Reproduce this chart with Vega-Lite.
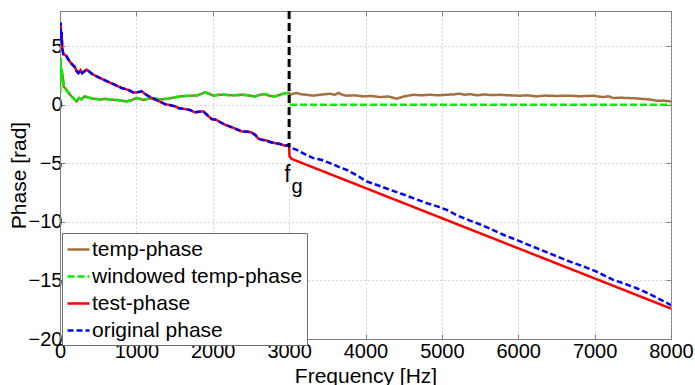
{
  "$schema": "https://vega.github.io/schema/vega-lite/v6.json",
  "width": 611,
  "height": 328,
  "autosize": {"type": "none"},
  "padding": {"left": 60, "top": 11, "right": 24, "bottom": 46},
  "background": "white",
  "config": {
    "font": "Liberation Sans",
    "view": {"stroke": "#7f7f7f", "strokeWidth": 1},
    "axis": {
      "domainColor": "#7f7f7f",
      "tickColor": "#7f7f7f",
      "tickSize": -5,
      "gridColor": "#b0b0b0",
      "gridDash": [1, 3],
      "labelFont": "Liberation Sans",
      "labelFontSize": 20,
      "labelColor": "black",
      "titleFont": "Liberation Sans",
      "titleFontSize": 21,
      "titleFontWeight": "normal",
      "titleColor": "black"
    }
  },
  "datasets": {
    "lines": [
      {"s": "temp-phase", "f": 0, "v": 1.0}, {"s": "temp-phase", "f": 5, "v": 4.0}, {"s": "temp-phase", "f": 12, "v": 2.0}, {"s": "temp-phase", "f": 20, "v": 3.0}, {"s": "temp-phase", "f": 35, "v": 2.4}, {"s": "temp-phase", "f": 50, "v": 1.5}, {"s": "temp-phase", "f": 65, "v": 1.45}, {"s": "temp-phase", "f": 100, "v": 1.1}, {"s": "temp-phase", "f": 153, "v": 0.7}, {"s": "temp-phase", "f": 190, "v": 0.45}, {"s": "temp-phase", "f": 218, "v": 0.28}, {"s": "temp-phase", "f": 250, "v": 0.57}, {"s": "temp-phase", "f": 280, "v": 0.45}, {"s": "temp-phase", "f": 320, "v": 0.71}, {"s": "temp-phase", "f": 380, "v": 0.6}, {"s": "temp-phase", "f": 450, "v": 0.5}, {"s": "temp-phase", "f": 530, "v": 0.45}, {"s": "temp-phase", "f": 600, "v": 0.5}, {"s": "temp-phase", "f": 655, "v": 0.43}, {"s": "temp-phase", "f": 750, "v": 0.4}, {"s": "temp-phase", "f": 873, "v": 0.28}, {"s": "temp-phase", "f": 940, "v": 0.4}, {"s": "temp-phase", "f": 1004, "v": 0.57}, {"s": "temp-phase", "f": 1050, "v": 0.5}, {"s": "temp-phase", "f": 1091, "v": 0.4}, {"s": "temp-phase", "f": 1150, "v": 0.5}, {"s": "temp-phase", "f": 1222, "v": 0.57}, {"s": "temp-phase", "f": 1300, "v": 0.45}, {"s": "temp-phase", "f": 1397, "v": 0.5}, {"s": "temp-phase", "f": 1480, "v": 0.6}, {"s": "temp-phase", "f": 1571, "v": 0.71}, {"s": "temp-phase", "f": 1650, "v": 0.75}, {"s": "temp-phase", "f": 1724, "v": 0.77}, {"s": "temp-phase", "f": 1800, "v": 0.8}, {"s": "temp-phase", "f": 1898, "v": 1.05}, {"s": "temp-phase", "f": 1950, "v": 0.95}, {"s": "temp-phase", "f": 2007, "v": 0.77}, {"s": "temp-phase", "f": 2080, "v": 0.85}, {"s": "temp-phase", "f": 2160, "v": 0.85}, {"s": "temp-phase", "f": 2250, "v": 0.8}, {"s": "temp-phase", "f": 2378, "v": 0.85}, {"s": "temp-phase", "f": 2460, "v": 0.8}, {"s": "temp-phase", "f": 2553, "v": 0.71}, {"s": "temp-phase", "f": 2620, "v": 0.85}, {"s": "temp-phase", "f": 2684, "v": 0.91}, {"s": "temp-phase", "f": 2750, "v": 0.75}, {"s": "temp-phase", "f": 2815, "v": 0.71}, {"s": "temp-phase", "f": 2900, "v": 0.9}, {"s": "temp-phase", "f": 2968, "v": 1.0}, {"s": "temp-phase", "f": 3000, "v": 1.0},
      {"s": "temp-phase", "f": 3011, "v": 0.85}, {"s": "temp-phase", "f": 3060, "v": 0.95}, {"s": "temp-phase", "f": 3098, "v": 1.0}, {"s": "temp-phase", "f": 3150, "v": 0.9}, {"s": "temp-phase", "f": 3220, "v": 0.85}, {"s": "temp-phase", "f": 3317, "v": 0.77}, {"s": "temp-phase", "f": 3400, "v": 0.85}, {"s": "temp-phase", "f": 3480, "v": 0.9}, {"s": "temp-phase", "f": 3535, "v": 0.94}, {"s": "temp-phase", "f": 3600, "v": 0.85}, {"s": "temp-phase", "f": 3644, "v": 1.0}, {"s": "temp-phase", "f": 3700, "v": 0.85}, {"s": "temp-phase", "f": 3753, "v": 0.77}, {"s": "temp-phase", "f": 3850, "v": 0.8}, {"s": "temp-phase", "f": 3971, "v": 0.71}, {"s": "temp-phase", "f": 4080, "v": 0.75}, {"s": "temp-phase", "f": 4189, "v": 0.65}, {"s": "temp-phase", "f": 4300, "v": 0.7}, {"s": "temp-phase", "f": 4407, "v": 0.51}, {"s": "temp-phase", "f": 4500, "v": 0.7}, {"s": "temp-phase", "f": 4625, "v": 0.85}, {"s": "temp-phase", "f": 4720, "v": 0.8}, {"s": "temp-phase", "f": 4844, "v": 0.85}, {"s": "temp-phase", "f": 4950, "v": 0.8}, {"s": "temp-phase", "f": 5062, "v": 0.85}, {"s": "temp-phase", "f": 5150, "v": 0.88}, {"s": "temp-phase", "f": 5237, "v": 0.94}, {"s": "temp-phase", "f": 5300, "v": 0.85}, {"s": "temp-phase", "f": 5368, "v": 0.91}, {"s": "temp-phase", "f": 5455, "v": 0.8}, {"s": "temp-phase", "f": 5550, "v": 0.88}, {"s": "temp-phase", "f": 5650, "v": 0.82}, {"s": "temp-phase", "f": 5761, "v": 0.85}, {"s": "temp-phase", "f": 5880, "v": 0.8}, {"s": "temp-phase", "f": 6023, "v": 0.77}, {"s": "temp-phase", "f": 6120, "v": 0.8}, {"s": "temp-phase", "f": 6241, "v": 0.71}, {"s": "temp-phase", "f": 6350, "v": 0.78}, {"s": "temp-phase", "f": 6500, "v": 0.75}, {"s": "temp-phase", "f": 6677, "v": 0.77}, {"s": "temp-phase", "f": 6800, "v": 0.72}, {"s": "temp-phase", "f": 6982, "v": 0.77}, {"s": "temp-phase", "f": 7050, "v": 0.7}, {"s": "temp-phase", "f": 7113, "v": 0.65}, {"s": "temp-phase", "f": 7180, "v": 0.72}, {"s": "temp-phase", "f": 7245, "v": 0.57}, {"s": "temp-phase", "f": 7330, "v": 0.6}, {"s": "temp-phase", "f": 7419, "v": 0.57}, {"s": "temp-phase", "f": 7520, "v": 0.55}, {"s": "temp-phase", "f": 7637, "v": 0.49}, {"s": "temp-phase", "f": 7720, "v": 0.45}, {"s": "temp-phase", "f": 7812, "v": 0.34}, {"s": "temp-phase", "f": 7900, "v": 0.35}, {"s": "temp-phase", "f": 8000, "v": 0.28},

      {"s": "windowed temp-phase", "f": 0, "v": 1.0}, {"s": "windowed temp-phase", "f": 5, "v": 4.0}, {"s": "windowed temp-phase", "f": 12, "v": 2.0}, {"s": "windowed temp-phase", "f": 20, "v": 3.0}, {"s": "windowed temp-phase", "f": 35, "v": 2.4}, {"s": "windowed temp-phase", "f": 50, "v": 1.5}, {"s": "windowed temp-phase", "f": 65, "v": 1.45}, {"s": "windowed temp-phase", "f": 100, "v": 1.1}, {"s": "windowed temp-phase", "f": 153, "v": 0.7}, {"s": "windowed temp-phase", "f": 190, "v": 0.45}, {"s": "windowed temp-phase", "f": 218, "v": 0.28}, {"s": "windowed temp-phase", "f": 250, "v": 0.57}, {"s": "windowed temp-phase", "f": 280, "v": 0.45}, {"s": "windowed temp-phase", "f": 320, "v": 0.71}, {"s": "windowed temp-phase", "f": 380, "v": 0.6}, {"s": "windowed temp-phase", "f": 450, "v": 0.5}, {"s": "windowed temp-phase", "f": 530, "v": 0.45}, {"s": "windowed temp-phase", "f": 600, "v": 0.5}, {"s": "windowed temp-phase", "f": 655, "v": 0.43}, {"s": "windowed temp-phase", "f": 750, "v": 0.4}, {"s": "windowed temp-phase", "f": 873, "v": 0.28}, {"s": "windowed temp-phase", "f": 940, "v": 0.4}, {"s": "windowed temp-phase", "f": 1004, "v": 0.57}, {"s": "windowed temp-phase", "f": 1050, "v": 0.5}, {"s": "windowed temp-phase", "f": 1091, "v": 0.4}, {"s": "windowed temp-phase", "f": 1150, "v": 0.5}, {"s": "windowed temp-phase", "f": 1222, "v": 0.57}, {"s": "windowed temp-phase", "f": 1300, "v": 0.45}, {"s": "windowed temp-phase", "f": 1397, "v": 0.5}, {"s": "windowed temp-phase", "f": 1480, "v": 0.6}, {"s": "windowed temp-phase", "f": 1571, "v": 0.71}, {"s": "windowed temp-phase", "f": 1650, "v": 0.75}, {"s": "windowed temp-phase", "f": 1724, "v": 0.77}, {"s": "windowed temp-phase", "f": 1800, "v": 0.8}, {"s": "windowed temp-phase", "f": 1898, "v": 1.05}, {"s": "windowed temp-phase", "f": 1950, "v": 0.95}, {"s": "windowed temp-phase", "f": 2007, "v": 0.77}, {"s": "windowed temp-phase", "f": 2080, "v": 0.85}, {"s": "windowed temp-phase", "f": 2160, "v": 0.85}, {"s": "windowed temp-phase", "f": 2250, "v": 0.8}, {"s": "windowed temp-phase", "f": 2378, "v": 0.85}, {"s": "windowed temp-phase", "f": 2460, "v": 0.8}, {"s": "windowed temp-phase", "f": 2553, "v": 0.71}, {"s": "windowed temp-phase", "f": 2620, "v": 0.85}, {"s": "windowed temp-phase", "f": 2684, "v": 0.91}, {"s": "windowed temp-phase", "f": 2750, "v": 0.75}, {"s": "windowed temp-phase", "f": 2815, "v": 0.71}, {"s": "windowed temp-phase", "f": 2900, "v": 0.9}, {"s": "windowed temp-phase", "f": 2968, "v": 1.0}, {"s": "windowed temp-phase", "f": 3000, "v": 1.0}, {"s": "windowed temp-phase", "f": 3008, "v": 0.0}, {"s": "windowed temp-phase", "f": 8000, "v": 0.0},

      {"s": "test-phase", "f": 0, "v": 6.0}, {"s": "test-phase", "f": 8, "v": 7.0}, {"s": "test-phase", "f": 15, "v": 5.5}, {"s": "test-phase", "f": 20, "v": 6.2}, {"s": "test-phase", "f": 30, "v": 4.8}, {"s": "test-phase", "f": 45, "v": 4.3}, {"s": "test-phase", "f": 80, "v": 4.2}, {"s": "test-phase", "f": 110, "v": 3.85}, {"s": "test-phase", "f": 150, "v": 3.5}, {"s": "test-phase", "f": 196, "v": 3.2}, {"s": "test-phase", "f": 215, "v": 2.9}, {"s": "test-phase", "f": 240, "v": 2.7}, {"s": "test-phase", "f": 270, "v": 2.95}, {"s": "test-phase", "f": 290, "v": 2.7}, {"s": "test-phase", "f": 320, "v": 2.85}, {"s": "test-phase", "f": 349, "v": 3.0}, {"s": "test-phase", "f": 380, "v": 2.85}, {"s": "test-phase", "f": 415, "v": 2.65}, {"s": "test-phase", "f": 500, "v": 2.35}, {"s": "test-phase", "f": 589, "v": 2.08}, {"s": "test-phase", "f": 700, "v": 1.75}, {"s": "test-phase", "f": 807, "v": 1.43}, {"s": "test-phase", "f": 900, "v": 1.25}, {"s": "test-phase", "f": 960, "v": 1.05}, {"s": "test-phase", "f": 1003, "v": 1.05}, {"s": "test-phase", "f": 1069, "v": 1.14}, {"s": "test-phase", "f": 1130, "v": 0.85}, {"s": "test-phase", "f": 1200, "v": 0.57}, {"s": "test-phase", "f": 1280, "v": 0.35}, {"s": "test-phase", "f": 1375, "v": 0.05}, {"s": "test-phase", "f": 1450, "v": -0.05}, {"s": "test-phase", "f": 1506, "v": -0.14}, {"s": "test-phase", "f": 1560, "v": -0.3}, {"s": "test-phase", "f": 1637, "v": -0.37}, {"s": "test-phase", "f": 1700, "v": -0.45}, {"s": "test-phase", "f": 1767, "v": -0.65}, {"s": "test-phase", "f": 1820, "v": -0.6}, {"s": "test-phase", "f": 1876, "v": -0.57}, {"s": "test-phase", "f": 1930, "v": -0.9}, {"s": "test-phase", "f": 1986, "v": -1.22}, {"s": "test-phase", "f": 2050, "v": -1.3}, {"s": "test-phase", "f": 2100, "v": -1.5}, {"s": "test-phase", "f": 2160, "v": -1.71}, {"s": "test-phase", "f": 2220, "v": -1.85}, {"s": "test-phase", "f": 2280, "v": -2.0}, {"s": "test-phase", "f": 2378, "v": -2.28}, {"s": "test-phase", "f": 2450, "v": -2.3}, {"s": "test-phase", "f": 2509, "v": -2.37}, {"s": "test-phase", "f": 2560, "v": -2.6}, {"s": "test-phase", "f": 2597, "v": -2.9}, {"s": "test-phase", "f": 2650, "v": -3.0}, {"s": "test-phase", "f": 2700, "v": -3.05}, {"s": "test-phase", "f": 2760, "v": -3.2}, {"s": "test-phase", "f": 2815, "v": -3.28}, {"s": "test-phase", "f": 2880, "v": -3.35}, {"s": "test-phase", "f": 2946, "v": -3.5}, {"s": "test-phase", "f": 2980, "v": -3.45}, {"s": "test-phase", "f": 3000, "v": -3.6}, {"s": "test-phase", "f": 3005, "v": -4.4}, {"s": "test-phase", "f": 3030, "v": -4.62}, {"s": "test-phase", "f": 8000, "v": -17.4},

      {"s": "original phase", "f": 0, "v": 6.0}, {"s": "original phase", "f": 8, "v": 7.0}, {"s": "original phase", "f": 15, "v": 5.5}, {"s": "original phase", "f": 20, "v": 6.2}, {"s": "original phase", "f": 30, "v": 4.8}, {"s": "original phase", "f": 45, "v": 4.3}, {"s": "original phase", "f": 80, "v": 4.2}, {"s": "original phase", "f": 110, "v": 3.85}, {"s": "original phase", "f": 150, "v": 3.5}, {"s": "original phase", "f": 196, "v": 3.2}, {"s": "original phase", "f": 215, "v": 2.9}, {"s": "original phase", "f": 240, "v": 2.7}, {"s": "original phase", "f": 270, "v": 2.95}, {"s": "original phase", "f": 290, "v": 2.7}, {"s": "original phase", "f": 320, "v": 2.85}, {"s": "original phase", "f": 349, "v": 3.0}, {"s": "original phase", "f": 380, "v": 2.85}, {"s": "original phase", "f": 415, "v": 2.65}, {"s": "original phase", "f": 500, "v": 2.35}, {"s": "original phase", "f": 589, "v": 2.08}, {"s": "original phase", "f": 700, "v": 1.75}, {"s": "original phase", "f": 807, "v": 1.43}, {"s": "original phase", "f": 900, "v": 1.25}, {"s": "original phase", "f": 960, "v": 1.05}, {"s": "original phase", "f": 1003, "v": 1.05}, {"s": "original phase", "f": 1069, "v": 1.14}, {"s": "original phase", "f": 1130, "v": 0.85}, {"s": "original phase", "f": 1200, "v": 0.57}, {"s": "original phase", "f": 1280, "v": 0.35}, {"s": "original phase", "f": 1375, "v": 0.05}, {"s": "original phase", "f": 1450, "v": -0.05}, {"s": "original phase", "f": 1506, "v": -0.14}, {"s": "original phase", "f": 1560, "v": -0.3}, {"s": "original phase", "f": 1637, "v": -0.37}, {"s": "original phase", "f": 1700, "v": -0.45}, {"s": "original phase", "f": 1767, "v": -0.65}, {"s": "original phase", "f": 1820, "v": -0.6}, {"s": "original phase", "f": 1876, "v": -0.57}, {"s": "original phase", "f": 1930, "v": -0.9}, {"s": "original phase", "f": 1986, "v": -1.22}, {"s": "original phase", "f": 2050, "v": -1.3}, {"s": "original phase", "f": 2100, "v": -1.5}, {"s": "original phase", "f": 2160, "v": -1.71}, {"s": "original phase", "f": 2220, "v": -1.85}, {"s": "original phase", "f": 2280, "v": -2.0}, {"s": "original phase", "f": 2378, "v": -2.28}, {"s": "original phase", "f": 2450, "v": -2.3}, {"s": "original phase", "f": 2509, "v": -2.37}, {"s": "original phase", "f": 2560, "v": -2.6}, {"s": "original phase", "f": 2597, "v": -2.9}, {"s": "original phase", "f": 2650, "v": -3.0}, {"s": "original phase", "f": 2700, "v": -3.05}, {"s": "original phase", "f": 2760, "v": -3.2}, {"s": "original phase", "f": 2815, "v": -3.28}, {"s": "original phase", "f": 2880, "v": -3.35}, {"s": "original phase", "f": 2946, "v": -3.5}, {"s": "original phase", "f": 2980, "v": -3.45}, {"s": "original phase", "f": 3011, "v": -3.65}, {"s": "original phase", "f": 3100, "v": -3.85}, {"s": "original phase", "f": 3200, "v": -4.2}, {"s": "original phase", "f": 3317, "v": -4.56}, {"s": "original phase", "f": 3420, "v": -4.7}, {"s": "original phase", "f": 3535, "v": -4.99}, {"s": "original phase", "f": 3650, "v": -5.3}, {"s": "original phase", "f": 3753, "v": -5.56}, {"s": "original phase", "f": 3880, "v": -6.0}, {"s": "original phase", "f": 4015, "v": -6.55}, {"s": "original phase", "f": 4150, "v": -6.85}, {"s": "original phase", "f": 4320, "v": -7.26}, {"s": "original phase", "f": 4470, "v": -7.6}, {"s": "original phase", "f": 4625, "v": -7.98}, {"s": "original phase", "f": 4800, "v": -8.4}, {"s": "original phase", "f": 4950, "v": -8.7}, {"s": "original phase", "f": 5062, "v": -8.97}, {"s": "original phase", "f": 5200, "v": -9.45}, {"s": "original phase", "f": 5368, "v": -9.89}, {"s": "original phase", "f": 5455, "v": -10.1}, {"s": "original phase", "f": 5600, "v": -10.5}, {"s": "original phase", "f": 5805, "v": -11.1}, {"s": "original phase", "f": 6000, "v": -11.6}, {"s": "original phase", "f": 6241, "v": -12.25}, {"s": "original phase", "f": 6450, "v": -12.8}, {"s": "original phase", "f": 6677, "v": -13.4}, {"s": "original phase", "f": 6850, "v": -13.8}, {"s": "original phase", "f": 7026, "v": -14.25}, {"s": "original phase", "f": 7245, "v": -14.96}, {"s": "original phase", "f": 7400, "v": -15.3}, {"s": "original phase", "f": 7550, "v": -15.67}, {"s": "original phase", "f": 7700, "v": -16.1}, {"s": "original phase", "f": 7850, "v": -16.6}, {"s": "original phase", "f": 8000, "v": -17.1}
    ],
    "vline": [{"f": 3000, "v": 8, "v2": -3.6}],
    "annF": [{"f": 2978, "v": -6.58, "t": "f"}],
    "annG": [{"f": 3103, "v": -7.52, "t": "g"}]
  },
  "resolve": {"scale": {"x": "shared", "y": "shared"}, "axis": {"x": "independent", "y": "independent"}},
  "layer": [
    {
      "data": {"name": "lines"},
      "transform": [{"filter": "datum.s === 'temp-phase'"}],
      "mark": {"type": "line", "strokeWidth": 2.5, "clip": true},
      "encoding": {
        "x": {"field": "f", "type": "quantitative", "scale": {"domain": [0, 8000], "nice": false, "zero": false},
              "axis": {"orient": "bottom", "values": [0,1000,2000,3000,4000,5000,6000,7000,8000], "format": "d", "grid": true, "title": "Frequency [Hz]", "labelPadding": 7, "titleBaseline": "alphabetic", "titleY": 43, "labelFlush": false, "labelOverlap": false}},
        "y": {"field": "v", "type": "quantitative", "scale": {"domain": [-20, 8], "nice": false, "zero": false},
              "axis": {"orient": "left", "values": [-20,-15,-10,-5,0,5], "grid": true, "title": "Phase [rad]", "labelPadding": 3, "titleBaseline": "alphabetic", "titleX": -35, "labelFlush": false, "labelOverlap": false}},
        "color": {"field": "s", "type": "nominal",
                  "scale": {"domain": ["temp-phase", "windowed temp-phase", "test-phase", "original phase"], "range": ["#A3703E", "#00EE00", "#FF0000", "#0000FF"]},
                  "legend": {"orient": "none", "legendX": 2, "legendY": 222, "title": null, "symbolType": "stroke", "symbolSize": 484, "symbolStrokeWidth": 2.5, "labelFontSize": 21, "labelFont": "Liberation Sans", "labelColor": "black", "padding": 4, "rowPadding": 4, "fillColor": "white", "strokeColor": "#6f6f6f", "labelOffset": 1, "labelLimit": 0}},
        "strokeDash": {"field": "s", "type": "nominal",
                  "scale": {"domain": ["temp-phase", "windowed temp-phase", "test-phase", "original phase"], "range": [[1, 0], [7, 3], [1, 0], [6, 3]]},
                  "legend": {"orient": "none", "legendX": 2, "legendY": 222, "title": null, "symbolType": "stroke", "symbolSize": 484, "symbolStrokeWidth": 2.5, "labelFontSize": 21, "labelFont": "Liberation Sans", "labelColor": "black", "padding": 4, "rowPadding": 4, "fillColor": "white", "strokeColor": "#6f6f6f", "labelOffset": 1, "labelLimit": 0}}
      }
    },
    {
      "data": {"name": "lines"},
      "transform": [{"filter": "datum.s === 'windowed temp-phase'"}],
      "mark": {"type": "line", "strokeWidth": 2.5, "clip": true},
      "encoding": {
        "x": {"field": "f", "type": "quantitative", "axis": null},
        "y": {"field": "v", "type": "quantitative", "axis": null},
        "color": {"field": "s", "type": "nominal"},
        "strokeDash": {"field": "s", "type": "nominal"}
      }
    },
    {
      "data": {"name": "lines"},
      "transform": [{"filter": "datum.s === 'test-phase'"}],
      "mark": {"type": "line", "strokeWidth": 2.5, "clip": true},
      "encoding": {
        "x": {"field": "f", "type": "quantitative", "axis": null},
        "y": {"field": "v", "type": "quantitative", "axis": null},
        "color": {"field": "s", "type": "nominal"},
        "strokeDash": {"field": "s", "type": "nominal"}
      }
    },
    {
      "data": {"name": "lines"},
      "transform": [{"filter": "datum.s === 'original phase'"}],
      "mark": {"type": "line", "strokeWidth": 2.5, "clip": true},
      "encoding": {
        "x": {"field": "f", "type": "quantitative", "axis": null},
        "y": {"field": "v", "type": "quantitative", "axis": null},
        "color": {"field": "s", "type": "nominal"},
        "strokeDash": {"field": "s", "type": "nominal"}
      }
    },
    {
      "data": {"name": "vline"},
      "mark": {"type": "rule", "color": "black", "strokeWidth": 3, "strokeDash": [8, 4]},
      "encoding": {
        "x": {"field": "f", "type": "quantitative",
              "axis": {"orient": "top", "values": [0,1000,2000,3000,4000,5000,6000,7000,8000], "labels": false, "grid": false, "domain": false, "title": null}},
        "y": {"field": "v", "type": "quantitative",
              "axis": {"orient": "right", "values": [-20,-15,-10,-5,0,5], "labels": false, "grid": false, "domain": false, "title": null}},
        "y2": {"field": "v2"}
      }
    },
    {
      "data": {"name": "annF"},
      "mark": {"type": "text", "fontSize": 23, "font": "Liberation Sans", "color": "black", "baseline": "alphabetic", "align": "center"},
      "encoding": {
        "x": {"field": "f", "type": "quantitative", "axis": null},
        "y": {"field": "v", "type": "quantitative", "axis": null},
        "text": {"field": "t"}
      }
    },
    {
      "data": {"name": "annG"},
      "mark": {"type": "text", "fontSize": 20, "font": "Liberation Sans", "color": "black", "baseline": "alphabetic", "align": "center"},
      "encoding": {
        "x": {"field": "f", "type": "quantitative", "axis": null},
        "y": {"field": "v", "type": "quantitative", "axis": null},
        "text": {"field": "t"}
      }
    }
  ]
}
